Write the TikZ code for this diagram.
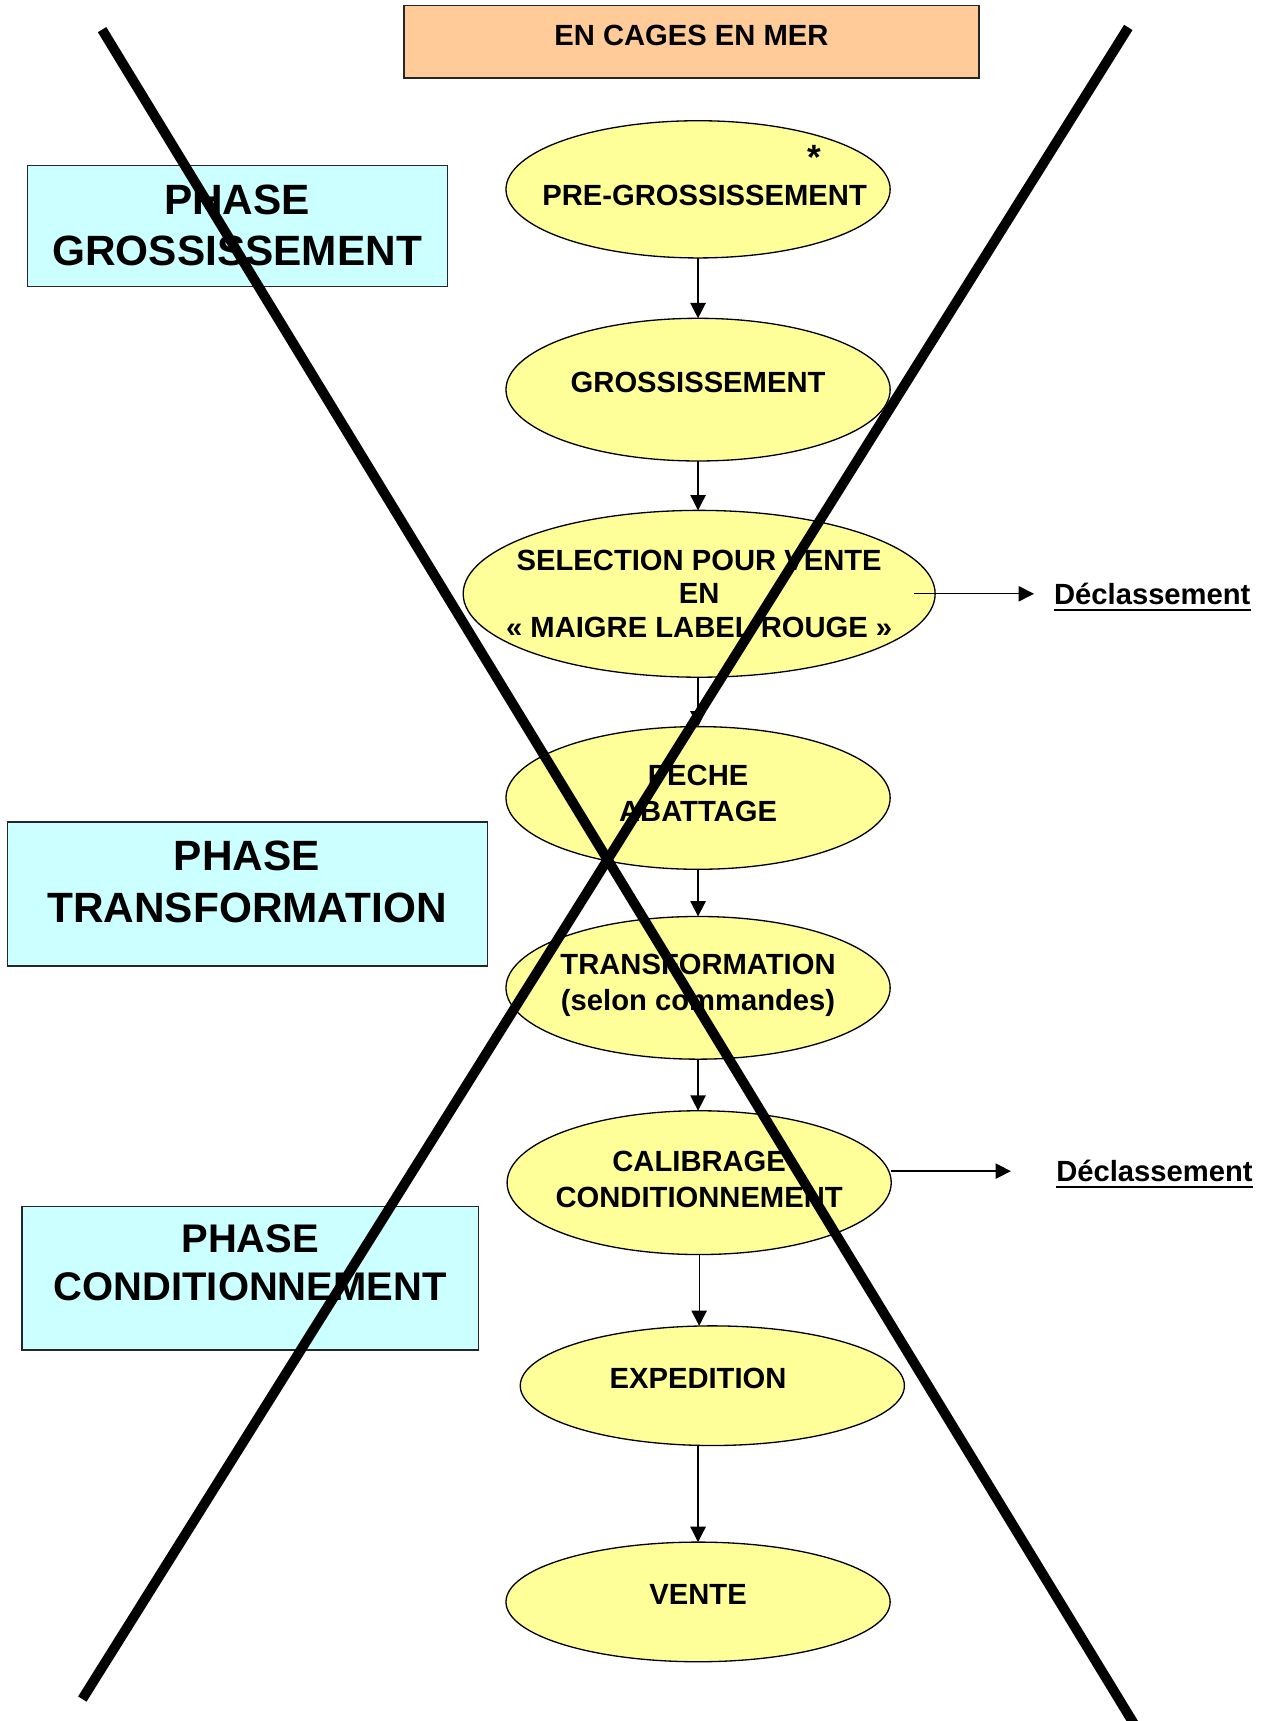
\documentclass[tikz,border=0pt]{standalone}
\usepackage{fontspec}
\setmainfont{Liberation Sans}
\usetikzlibrary{shapes.geometric,arrows.meta}
\definecolor{peach}{HTML}{FFCC99}
\definecolor{cyanfill}{HTML}{CCFFFF}
\definecolor{ellfill}{HTML}{FFFF99}
\tikzset{
  ell/.style={ellipse, draw=black, line width=0.6pt, fill=ellfill, inner sep=0pt, outer sep=0pt},
  boxshape/.style={rectangle, draw=black!85, line width=0.6pt, inner sep=0pt, outer sep=0pt},
  txt/.style={font=\bfseries\fontsize{13.3}{15.25}\selectfont, align=center, inner sep=0pt},
  txtb/.style={font=\bfseries\fontsize{13.3}{16.3}\selectfont, align=center, inner sep=0pt},
  bigtxt/.style={font=\bfseries\fontsize{19.3}{23.5}\selectfont, align=center, inner sep=0pt},
  bigtxtb/.style={font=\bfseries\fontsize{18.2}{21.5}\selectfont, align=center, inner sep=0pt},
  arr/.style={-{Triangle[length=7pt,width=7pt]}, line width=0.6pt},
  ul/.style={line width=1pt},
  cross/.style={line width=4.5pt, black},
}
\begin{document}
\begin{tikzpicture}[x=0.5pt,y=-0.5pt]
\useasboundingbox (0,0) rectangle (1158,1568);
% top box
\node[boxshape, fill=peach, minimum width=262pt, minimum height=33pt] (top) at (630,38) {};
\node[txt] (ttop) at (630,32) {EN CAGES EN MER};
% phase boxes
\node[boxshape, fill=cyanfill, minimum width=191.5pt, minimum height=55pt] (p1) at (216.5,206) {};
\node[bigtxt] (tp1) at (216,205.5) {PHASE\\GROSSISSEMENT};
\node[boxshape, fill=cyanfill, minimum width=218.5pt, minimum height=65.5pt] (p2) at (225.5,814.5) {};
\node[bigtxt] (tp2) at (225,803.5) {PHASE\\TRANSFORMATION};
\node[boxshape, fill=cyanfill, minimum width=208pt, minimum height=65.5pt] (p3) at (228,1164.5) {};
\node[bigtxtb] (tp3) at (228,1150.5) {PHASE\\CONDITIONNEMENT};
% ellipses
\node[ell, minimum width=175pt, minimum height=62.5pt] (e1) at (636,172.5) {};
\node[txt] (t1) at (642,178) {PRE-GROSSISSEMENT};
\node[font=\bfseries\fontsize{16}{16}\selectfont, inner sep=0pt] (ast) at (742,143) {*};
\node[ell, minimum width=175pt, minimum height=65pt] (e2) at (636,355) {};
\node[txt] (t2) at (636,348) {GROSSISSEMENT};
\node[ell, minimum width=215pt, minimum height=76pt] (e3) at (637,541) {};
\node[txt] (t3) at (637,541) {SELECTION POUR VENTE\\EN\\« MAIGRE LABEL ROUGE »};
\node[ell, minimum width=175pt, minimum height=65pt] (e4) at (636,727) {};
\node[txtb] (t4) at (636,723) {PECHE\\ABATTAGE};
\node[ell, minimum width=175pt, minimum height=65pt] (e5) at (636,900) {};
\node[txtb] (t5) at (636,897.5) {TRANSFORMATION\\(selon commandes)};
\node[ell, minimum width=175pt, minimum height=65.5pt] (e6) at (637,1077.5) {};
\node[txtb] (t6) at (637,1074.5) {CALIBRAGE\\CONDITIONNEMENT};
\node[ell, minimum width=175pt, minimum height=54.5pt] (e7) at (649,1262.5) {};
\node[txt] (t7) at (636,1256) {EXPEDITION};
\node[ell, minimum width=175pt, minimum height=54.5pt] (e8) at (636,1459.5) {};
\node[txt] (t8) at (636,1453) {VENTE};
% declassement
\node[txt, anchor=base west] (d1) at (960,550.5) {Déclassement};
\node[txt, anchor=base west] (d2) at (962,1076.5) {Déclassement};
\draw[ul] ([yshift=-2.6pt]d1.base west) -- ([yshift=-2.6pt]d1.base east);
\draw[ul] ([yshift=-2.6pt]d2.base west) -- ([yshift=-2.6pt]d2.base east);
\coordinate (d1a) at (942,541);
\coordinate (d2a) at (921,1067);
% arrows
\draw[arr] (e1.south) -- (e1.south |- e2.north);
\draw[arr] (e2.south) -- (e2.south |- e3.north);
\draw[arr] (e4.north |- e3.south) -- (e4.north);
\draw[arr] (e4.south) -- (e4.south |- e5.north);
\draw[arr] (e5.south) -- (e5.south |- e6.north);
\draw[arr] (e6.south) -- (e6.south |- e7.north);
\draw[arr] (e8.north |- e7.south) -- (e8.north);
\draw[arr] ([xshift=-9.5pt]e3.east) -- (d1a);
\draw[arr] ([yshift=5.25pt]e6.east) -- (d2a);
% cross
\coordinate (xa1) at (93,27);
\coordinate (xa2) at (1034,1572);
\coordinate (xb1) at (1028,25);
\coordinate (xb2) at (75,1548);
\draw[cross] (xa1) -- (xa2);
\draw[cross] (xb1) -- (xb2);
\end{tikzpicture}
\end{document}
